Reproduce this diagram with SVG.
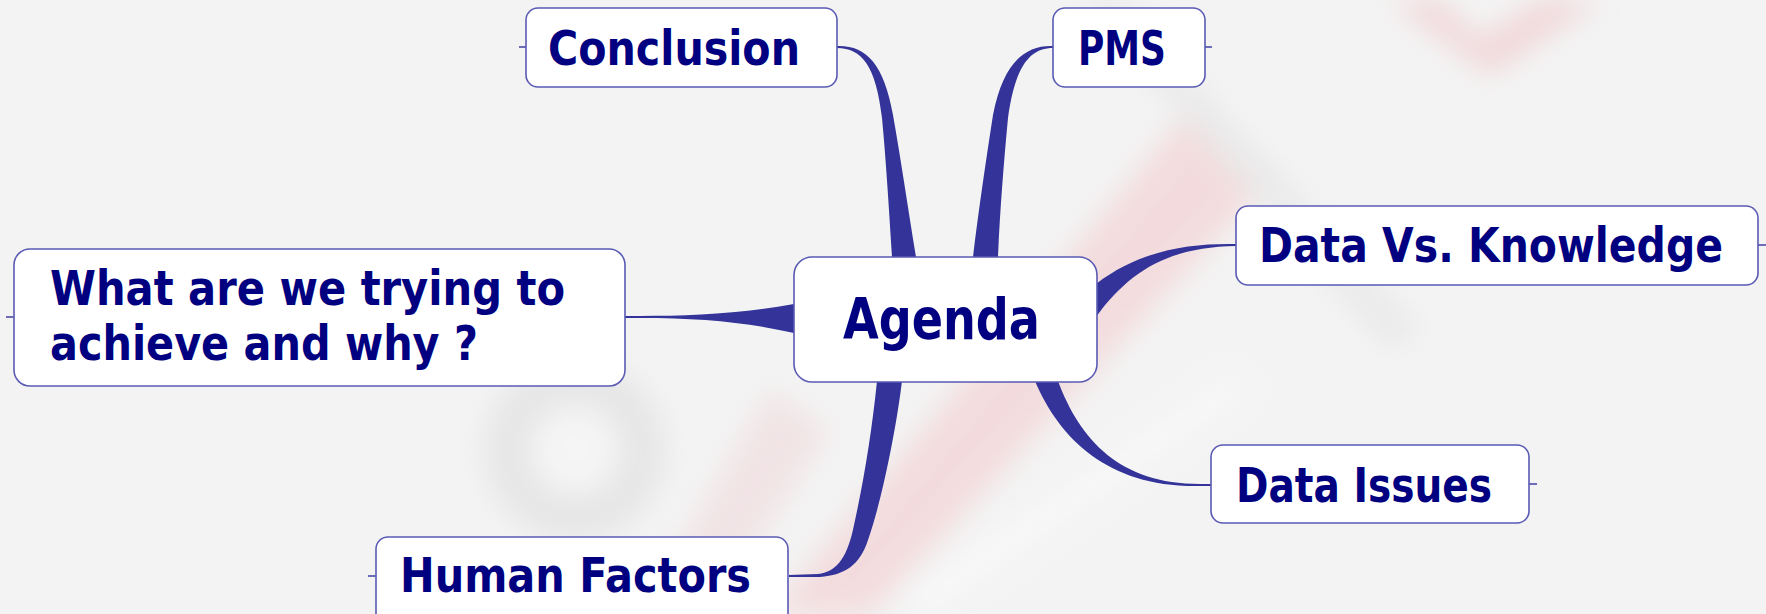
<svg xmlns="http://www.w3.org/2000/svg" width="1766" height="614" viewBox="0 0 1766 614">
<defs>
<filter id="blur" x="-20%" y="-20%" width="140%" height="140%"><feGaussianBlur stdDeviation="14"/></filter>
<style>
.box{fill:#ffffff;stroke:#5a5ab4;stroke-width:1.6}
.tick{stroke:#4a4aa8;stroke-width:1.6}
.lbl{font-family:"DejaVu Sans","Liberation Sans",sans-serif;font-weight:bold;fill:#000080;font-size:41px}
.big{font-size:46px}
.br{fill:#333399}
</style>
</defs>
<rect width="1766" height="614" fill="#f3f3f3"/>
<g id="background" filter="url(#blur)" opacity="0.55">
<polygon points="770,614 870,614 1280,170 1190,110" fill="#f3c9cc"/>
<polygon points="640,614 710,614 830,430 770,390" fill="#f0d8da"/>
<circle cx="575" cy="450" r="90" fill="#dcdcdc"/>
<circle cx="575" cy="450" r="45" fill="#f7f7f7"/>
<polygon points="1390,0 1440,0 1480,40 1540,0 1600,0 1490,75" fill="#f0c0c4"/>
<polygon points="1080,0 1120,0 1420,330 1390,350" fill="#e2e2e2"/>
<polygon points="900,600 930,614 1250,390 1230,375" fill="#fdfdfd"/>
</g>
<g id="connectors">
<path class="br" d="M837,46 C866,45 884,64 893,115 C901,160 909,215 916,257 L892,257 C889,210 886,160 882,118 C876,66 862,48 837,48 Z"/>
<path class="br" d="M1053,46 C1024,45 1003,64 993,115 C986,160 978,215 973,257 L998,257 C1000,210 1004,160 1008,118 C1015,66 1030,48 1053,48 Z"/>
<path class="br" d="M625,316 L640,316 C690,316 740,314 794,304 L794,333 C745,322 700,318 640,318 L625,318 Z"/>
<path class="br" d="M1236,244 C1190,243 1140,250 1096,284 L1096,317 C1130,270 1170,247 1236,246 Z"/>
<path class="br" d="M1058,381 C1080,440 1120,484 1200,484 L1211,484 L1211,486 L1200,486 C1110,488 1060,440 1035,381 Z"/>
<path class="br" d="M902,381 C896,430 882,500 868,540 C860,565 845,575 820,577 L789,577 L789,575 L818,574 C838,572 848,555 854,525 C864,480 872,430 877,381 Z"/>
<line class="tick" x1="519" y1="47" x2="526" y2="47"/>
<line class="tick" x1="1205" y1="47" x2="1212" y2="47"/>
<line class="tick" x1="1758" y1="245" x2="1766" y2="245"/>
<line class="tick" x1="6" y1="317" x2="14" y2="317"/>
<line class="tick" x1="1529" y1="484" x2="1537" y2="484"/>
<line class="tick" x1="368" y1="576" x2="376" y2="576"/>
</g>
<g id="node-agenda">
<rect class="box" x="794" y="257" width="303" height="125" rx="18"/>
<text class="lbl big" transform="translate(843,339) scale(1,1.25)" textLength="197" lengthAdjust="spacingAndGlyphs">Agenda</text>
</g>
<g id="node-conclusion">
<rect class="box" x="526" y="8" width="311" height="79" rx="12"/>
<text class="lbl" transform="translate(548,65) scale(1,1.17)" textLength="252" lengthAdjust="spacingAndGlyphs">Conclusion</text>
</g>
<g id="node-pms">
<rect class="box" x="1053" y="8" width="152" height="79" rx="12"/>
<text class="lbl" transform="translate(1078,65) scale(1,1.17)" textLength="88" lengthAdjust="spacingAndGlyphs">PMS</text>
</g>
<g id="node-data-vs-knowledge">
<rect class="box" x="1236" y="206" width="522" height="79" rx="12"/>
<text class="lbl" transform="translate(1259,262) scale(1,1.17)" textLength="464" lengthAdjust="spacingAndGlyphs">Data Vs. Knowledge</text>
</g>
<g id="node-what">
<rect class="box" x="14" y="249" width="611" height="137" rx="16"/>
<text class="lbl" transform="translate(50,305) scale(1,1.17)" textLength="515" lengthAdjust="spacingAndGlyphs">What are we trying to</text>
<text class="lbl" transform="translate(50,360) scale(1,1.17)" textLength="428" lengthAdjust="spacingAndGlyphs">achieve and why ?</text>
</g>
<g id="node-data-issues">
<rect class="box" x="1211" y="445" width="318" height="78" rx="12"/>
<text class="lbl" transform="translate(1236,502) scale(1,1.17)" textLength="256" lengthAdjust="spacingAndGlyphs">Data Issues</text>
</g>
<g id="node-human-factors">
<rect class="box" x="376" y="537" width="412" height="90" rx="12"/>
<text class="lbl" transform="translate(400,592) scale(1,1.17)" textLength="351" lengthAdjust="spacingAndGlyphs">Human Factors</text>
</g>
</svg>
